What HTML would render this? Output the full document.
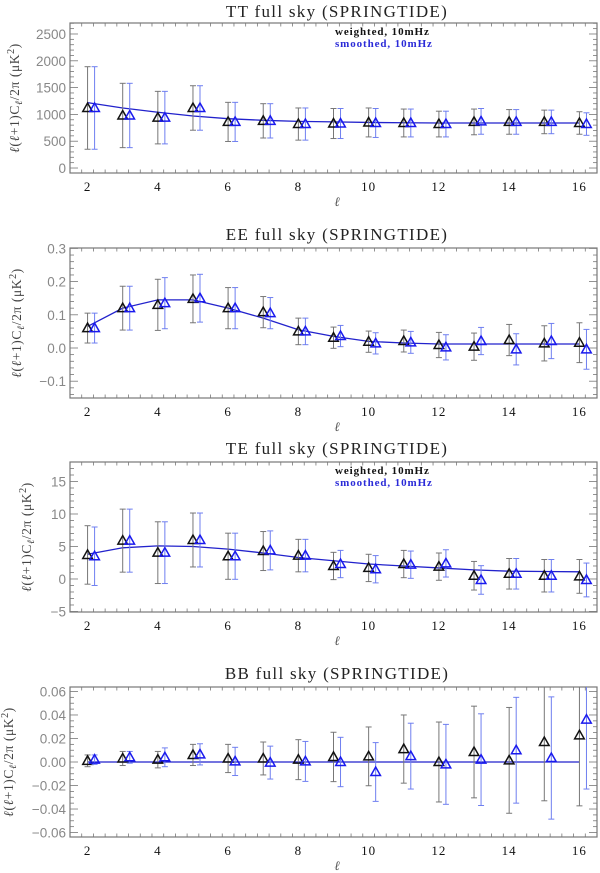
<!DOCTYPE html>
<html><head><meta charset="utf-8"><style>
html,body{margin:0;padding:0;background:#fff;}
svg{display:block;}
</style></head><body>
<svg id="fig" width="600" height="873" viewBox="0 0 600 873" xmlns="http://www.w3.org/2000/svg"></svg>
<script>
// ---- data ----
const ells = [2,3,4,5,6,7,8,9,10,11,12,13,14,15,16];
// TT
const ttWeighted = [1120,980,940,1120,860,880,820,830,850,840,820,860,860,860,840];
const ttSmoothed = [1120,980,940,1120,860,880,820,830,840,840,820,870,860,860,820];
const ttErrW = [770,600,490,415,365,320,300,280,270,260,240,240,230,220,210];
const ttErrS = [770,600,490,415,365,320,300,280,270,260,240,240,230,220,210];
const ttModel = [1220,1120,1040,970,920,890,870,860,850,845,840,840,840,840,840];
const ttTicks = [0,500,1000,1500,2000,2500];
const ttTickLabels = ["0","500","1000","1500","2000","2500"];
// EE
const eeWeighted = [0.06,0.12,0.13,0.148,0.12,0.108,0.05,0.031,0.019,0.021,0.009,0.004,0.024,0.014,0.016];
const eeSmoothed = [0.06,0.12,0.135,0.15,0.12,0.105,0.05,0.036,0.014,0.017,0.002,0.021,-0.004,0.021,-0.004];
const eeErrW = [0.045,0.066,0.077,0.072,0.062,0.047,0.04,0.032,0.032,0.033,0.038,0.041,0.047,0.053,0.06];
const eeErrS = [0.045,0.066,0.077,0.072,0.062,0.047,0.04,0.032,0.032,0.033,0.038,0.041,0.047,0.053,0.06];
const eeModel = [0.065,0.12,0.145,0.145,0.12,0.09,0.055,0.035,0.02,0.015,0.012,0.012,0.012,0.012,0.012];
const eeTicks = [-0.1,0,0.1,0.2,0.3];
const eeTickLabels = ["\u22120.1","0.0","0.1","0.2","0.3"];
// TE
const teWeighted = [3.7,5.9,4.05,6.0,3.5,4.3,3.6,2.0,1.7,2.3,1.9,0.5,0.8,0.5,0.4];
const teSmoothed = [3.5,5.9,4.05,6.0,3.5,4.4,3.6,2.3,1.5,2.2,2.4,-0.15,0.8,0.5,-0.15];
const teErrW = [4.5,4.85,4.75,4.15,3.55,3.0,2.5,2.1,2.1,2.1,2.1,2.2,2.35,2.5,2.6];
const teErrS = [4.5,4.85,4.75,4.15,3.55,3.0,2.5,2.1,2.1,2.1,2.1,2.2,2.35,2.5,2.6];
const teModel = [3.8,4.8,5.1,5.0,4.6,4.0,3.3,2.8,2.3,2.0,1.7,1.4,1.2,1.15,1.1];
const teTicks = [-5,0,5,10,15];
const teTickLabels = ["\u22125","0","5","10","15"];
// BB
const bbWeighted = [0.001,0.003,0.002,0.006,0.003,0.003,0.002,0.0043,0.0048,0.011,0,0.0085,0.0014,0.017,0.0227];
const bbSmoothed = [0.002,0.004,0.004,0.0065,0.0005,-0.0005,0.0005,0,-0.0085,0.005,-0.002,0.002,0.01,0.0034,0.036];
const bbErrW = [0.005,0.006,0.007,0.009,0.012,0.014,0.017,0.021,0.025,0.029,0.034,0.039,0.045,0.05,0.06];
const bbErrS = [0.004,0.005,0.008,0.009,0.012,0.014,0.017,0.021,0.025,0.028,0.034,0.039,0.045,0.052,0.059];
const bbModel = [0,0,0,0,0,0,0,0,0,0,0,0,0,0,0];
const bbTicks = [-0.06,-0.04,-0.02,0,0.02,0.04,0.06];
const bbTickLabels = ["\u22120.06","\u22120.04","\u22120.02","0.00","0.02","0.04","0.06"];
const xTicks = [2,4,6,8,10,12,14,16];

const NS="http://www.w3.org/2000/svg";
const svg=document.getElementById('fig');
function mk(tag,attrs,parent){const e=document.createElementNS(NS,tag);for(const k in attrs)e.setAttribute(k,attrs[k]);(parent||svg).appendChild(e);return e;}

const X0=70,X1=597,XMIN=1.5,XMAX=16.5;
function xs(v){return X0+(v-XMIN)/(XMAX-XMIN)*(X1-X0);}

function panel(p){
  const g=mk('g',{});
  
  
  const ys=v=>p.y1-(v-p.ymin)/(p.ymax-p.ymin)*(p.y1-p.y0);
  const cid='clip'+p.key;
  const cp=mk('clipPath',{id:cid},g);mk('rect',{x:X0,y:p.y0,width:X1-X0,height:p.y1-p.y0},cp);
  const t=mk('text',{x:337,y:p.ty,'text-anchor':'middle','font-family':'Liberation Serif, serif','font-size':'17','letter-spacing':'1.3',fill:'#222','xml:space':'preserve'},g);
  t.textContent=p.title;
  
  
  const fr=mk('rect',{x:X0,y:p.y0,width:X1-X0,height:p.y1-p.y0,fill:'none',stroke:'#777','stroke-width':'1.2'},g);
  
  
  for(let v=XMIN;v<=XMAX+1e-6;v+=1/3){
    const r=Math.abs(v-Math.round(v))<1e-6&&Math.round(v)%2===0;
    const L=r?7:3.5;const x=xs(v);
    mk('line',{x1:x,x2:x,y1:p.y1,y2:p.y1-L,stroke:'#777','stroke-width':'0.8'},g);
    mk('line',{x1:x,x2:x,y1:p.y0,y2:p.y0+L,stroke:'#777','stroke-width':'0.8'},g);
  }
  xTicks.forEach(v=>{
    const tx=mk('text',{x:xs(v),y:p.y1+18,'text-anchor':'middle','font-family':'Liberation Serif, serif','font-size':'13','letter-spacing':'1',fill:'#111'},g);
    tx.textContent=String(v);
    
    
  });
  const xl=mk('text',{x:337,y:p.y1+33,'text-anchor':'middle','font-family':'Liberation Serif, serif','font-style':'italic','font-size':'13',fill:'#555'},g);
  xl.textContent='ℓ';
  
  
  const step=p.yt[1]-p.yt[0];const mstep=step/p.minor;
  for(let v=p.yt[0]-step*3;v<=p.ymax+1e-9;v+=mstep){
    if(v<p.ymin-1e-9)continue;
    const k=Math.round((v-p.yt[0])/mstep);const major=k%p.minor===0;
    const L=major?8:4;const y=ys(v);
    mk('line',{x1:X0,x2:X0+L,y1:y,y2:y,stroke:'#777','stroke-width':'0.8'},g);
    mk('line',{x1:X1,x2:X1-L,y1:y,y2:y,stroke:'#777','stroke-width':'0.8'},g);
  }
  p.yt.forEach((v,i)=>{
    const ty=mk('text',{x:X0-4,y:ys(v)+5,'text-anchor':'end','font-family':'Liberation Sans, sans-serif','font-size':'13.5',fill:'#888'},g);
    ty.textContent=p.ytl[i];
    
    
  });
  const yc=(p.y0+p.y1)/2;
  const yl=mk('text',{x:0,y:0,transform:`translate(${p.ylx},${yc}) rotate(-90)`,'text-anchor':'middle','font-family':'Liberation Serif, serif','font-size':'13.5','letter-spacing':'0.6',fill:'#444','xml:space':'preserve'},g);
  yl.innerHTML='<tspan font-style="italic">ℓ</tspan>(<tspan font-style="italic">ℓ</tspan>+1)C<tspan font-size="10" dy="3" font-style="italic">ℓ</tspan><tspan dy="-3">/2π  (μK</tspan><tspan font-size="10" dy="-5">2</tspan><tspan dy="5">)</tspan>';
  
  
  const dg=mk('g',{'clip-path':`url(#${cid})`},g);
  const pts=ells.map((l,i)=>`${xs(l)},${ys(p.model[i])}`).join(' ');
  const ml=mk('polyline',{points:pts,fill:'none',stroke:'#2222cc','stroke-width':'1.3'},dg);
  
  
  [[p.w,p.ew,0,'#111','#777','weighted'],[p.s,p.es,0.2,'#1a1aee','#6f7ff0','smoothed']].forEach(([vals,errs,off,col,ecol,nm])=>{
    vals.forEach((v,i)=>{
      const x=xs(ells[i]+off);const yt=ys(v+errs[i]),yb=ys(v-errs[i]);
      const eg=mk('g',{stroke:ecol,'stroke-width':'1'},dg);
      
      
      mk('line',{x1:x,x2:x,y1:yt,y2:yb},eg);
      mk('line',{x1:x-3,x2:x+3,y1:yt,y2:yt},eg);
      mk('line',{x1:x-3,x2:x+3,y1:yb,y2:yb},eg);
      const y=ys(v);
      const tri=mk('polygon',{points:`${x-4.8},${y+3.5} ${x+4.8},${y+3.5} ${x},${y-5}`,fill:'none',stroke:col,'stroke-width':'1.5'},dg);
      
      
    });
  });
  if(p.legend){
    const l1=mk('text',{x:335,y:p.legend,'font-family':'Liberation Serif, serif','font-weight':'bold','font-size':'11','letter-spacing':'0.9',fill:'#111'},g);
    l1.textContent='weighted, 10mHz';
    
    
    const l2=mk('text',{x:335,y:p.legend+12,'font-family':'Liberation Serif, serif','font-weight':'bold','font-size':'11','letter-spacing':'0.9',fill:'#2b2bd8'},g);
    l2.textContent='smoothed, 10mHz';
    
    
  }
}
panel({key:'tt',title:'TT full sky (SPRINGTIDE)',ty:17,y0:23,y1:173,ymin:-93,ymax:2705,yt:ttTicks,ytl:ttTickLabels,minor:5,w:ttWeighted,s:ttSmoothed,ew:ttErrW,es:ttErrS,model:ttModel,legend:35,ylx:19});
panel({key:'ee',title:'EE full sky (SPRINGTIDE)',ty:240,y0:248,y1:398,ymin:-0.1506,ymax:0.3012,yt:eeTicks,ytl:eeTickLabels,minor:5,w:eeWeighted,s:eeSmoothed,ew:eeErrW,es:eeErrS,model:eeModel,ylx:21});
panel({key:'te',title:'TE  full sky (SPRINGTIDE)',ty:454,y0:462,y1:612,ymin:-5.08,ymax:18,yt:teTicks,ytl:teTickLabels,minor:5,w:teWeighted,s:teSmoothed,ew:teErrW,es:teErrS,model:teModel,legend:474,ylx:31});
panel({key:'bb',title:'BB full sky (SPRINGTIDE)',ty:679,y0:687,y1:837,ymin:-0.0638,ymax:0.0638,yt:bbTicks,ytl:bbTickLabels,minor:4,w:bbWeighted,s:bbSmoothed,ew:bbErrW,es:bbErrS,model:bbModel,ylx:13});
</script>
</body></html>
